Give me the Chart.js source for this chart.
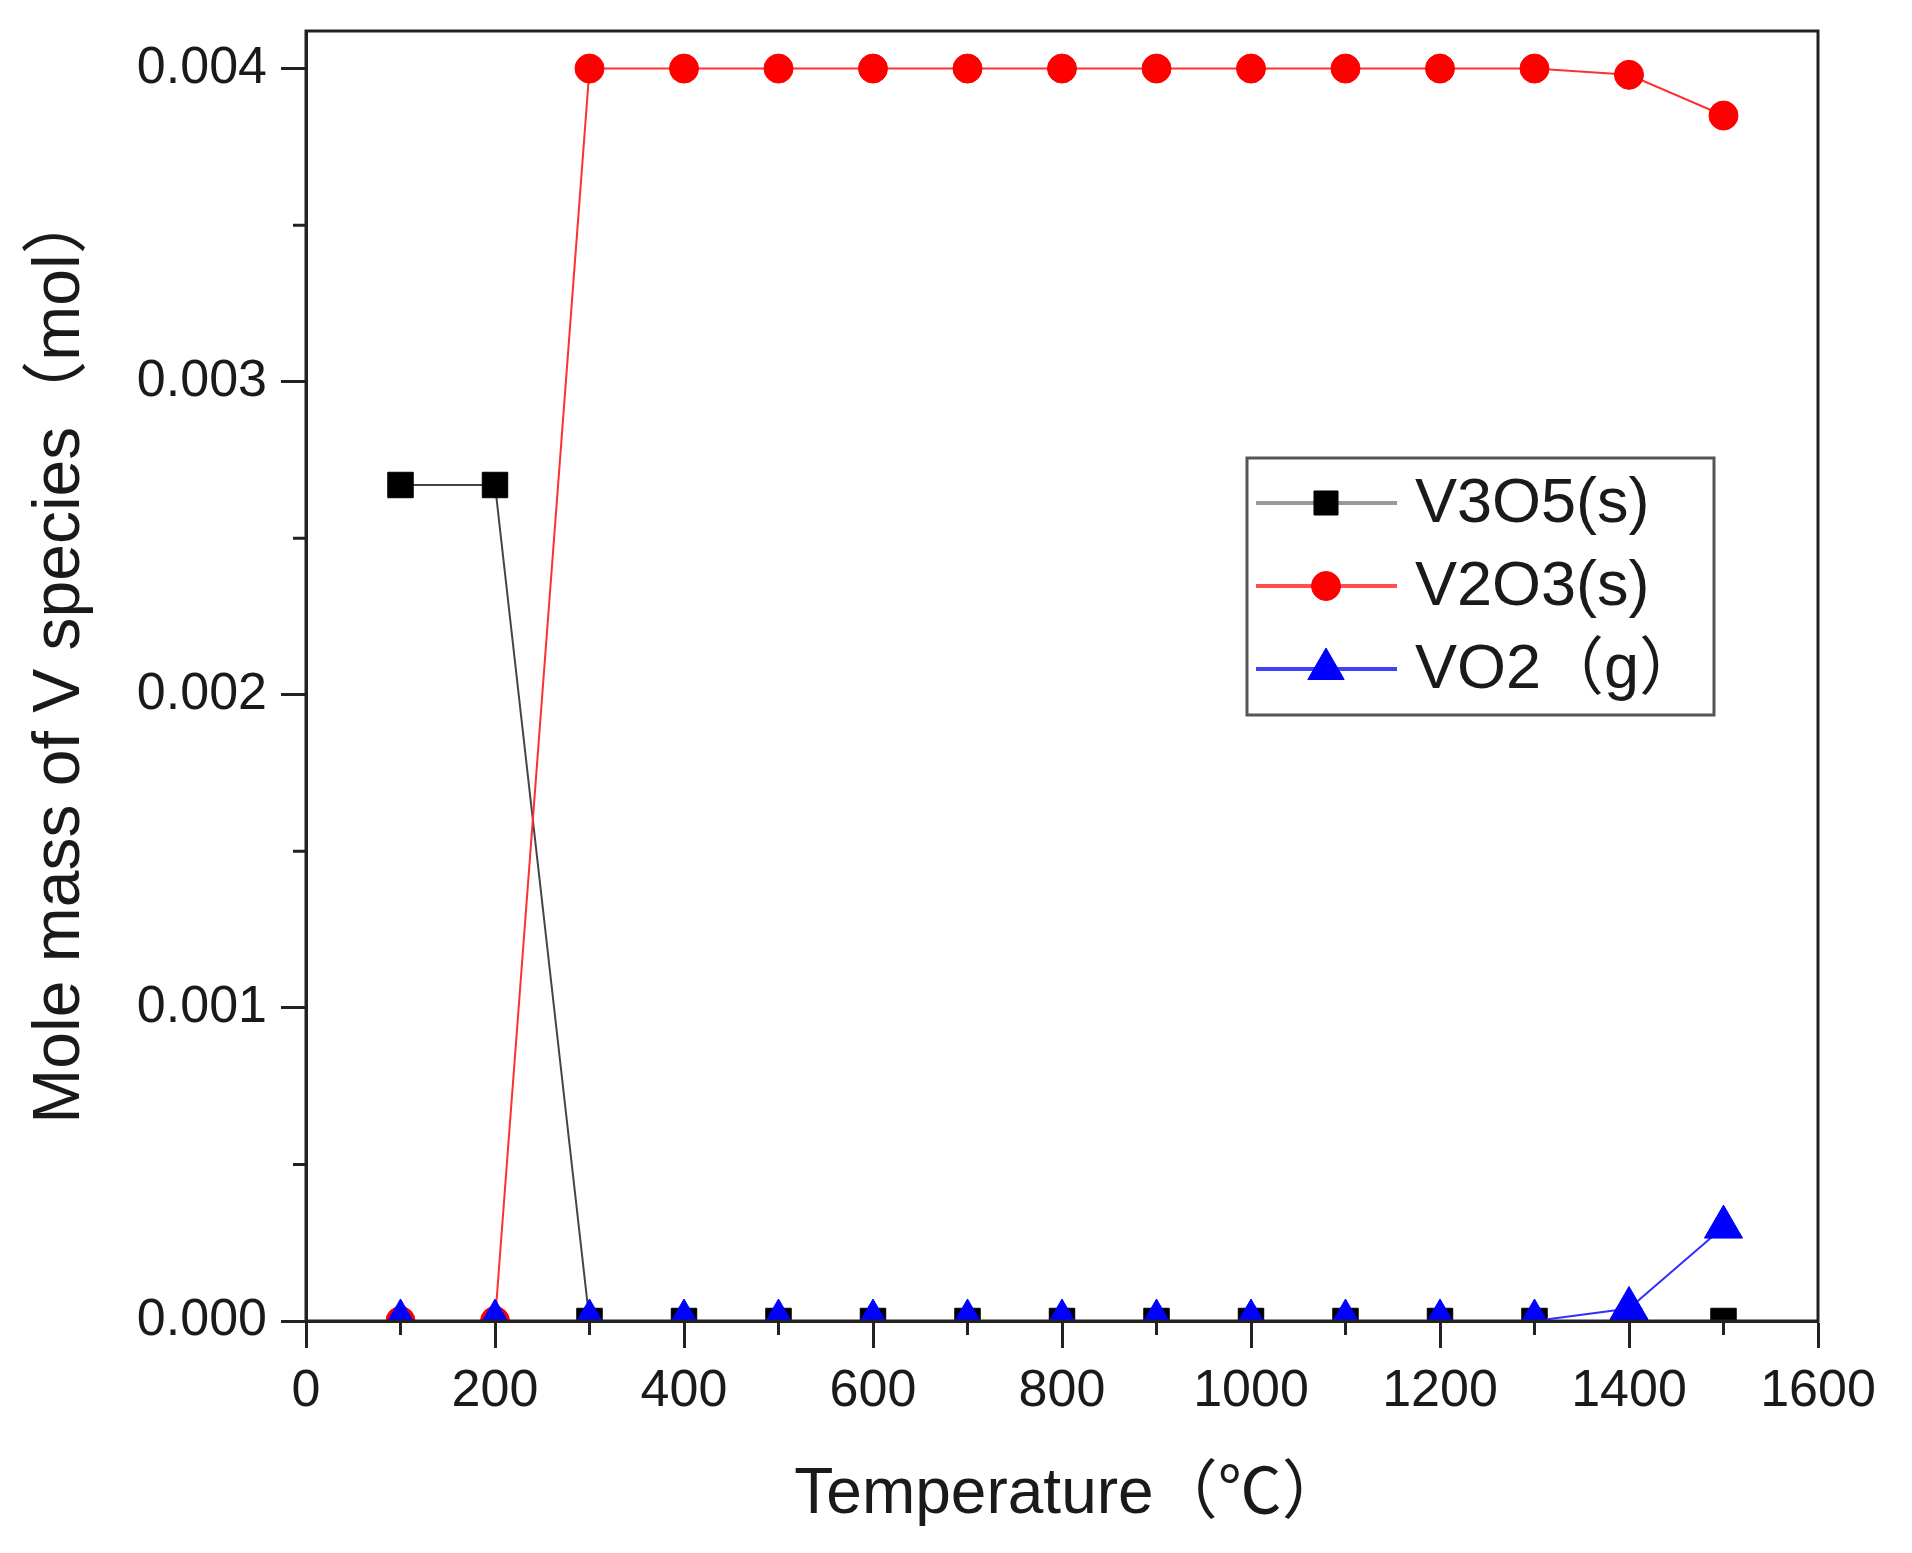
<!DOCTYPE html>
<html>
<head>
<meta charset="utf-8">
<script src="https://cdn.jsdelivr.net/npm/chart.js@4.4.0/dist/chart.umd.min.js"></script>
<style>
    html, body { margin: 0; padding: 0; background: #fff; }
    #wrap { width: 1912px; height: 1553px; }
</style>
</head>
<body>
<div id="wrap"><canvas id="speciesChart" width="1912" height="1553"></canvas></div>
<script>
// temperatures (°C) and mole amounts
const temperatures = [100, 200, 300, 400, 500, 600, 700, 800, 900, 1000, 1100, 1200, 1300, 1400, 1500];
const v3o5 = [0.00267, 0.00267, 0, 0, 0, 0, 0, 0, 0, 0, 0, 0, 0, 0, 0];
const v2o3 = [0, 0, 0.004, 0.004, 0.004, 0.004, 0.004, 0.004, 0.004, 0.004, 0.004, 0.004, 0.004, 0.00398, 0.00385];
const vo2 = [0, 0, 0, 0, 0, 0, 0, 0, 0, 0, 0, 0, 0, 0.00004, 0.0003];

const seriesLabels = ['V3O5(s)', 'V2O3(s)', 'VO2（g）'];
const xTicks = [0, 200, 400, 600, 800, 1000, 1200, 1400, 1600];
const xMinorTicks = [100, 300, 500, 700, 900, 1100, 1300, 1500];
const yTicks = [0, 0.001, 0.002, 0.003, 0.004];
const yMinorTicks = [0.0005, 0.0015, 0.0025, 0.0035];

const xTitle = 'Temperature（℃）';
const yTitle = 'Mole mass of V species（mol）';

const axisColor = '#222';
const textColor = '#1a1a1a';
const fontFamily = '"Liberation Sans", Arial, "Noto Sans CJK SC", sans-serif';

function toPoints(values) {
    return temperatures.map((t, i) => ({x: t, y: values[i]}));
}

function marker(ctx, style, radius, x, y, fill) {
    ctx.save();
    ctx.fillStyle = fill;
    ctx.strokeStyle = fill;
    ctx.lineWidth = 1;
    if (Chart.helpers && Chart.helpers.drawPoint) {
        Chart.helpers.drawPoint(ctx, {pointStyle: style, radius: radius, rotation: 0, borderWidth: 1}, x, y);
    } else {
        ctx.beginPath();
        if (style === 'rect') {
            const s = Math.SQRT1_2 * radius;
            ctx.rect(x - s, y - s, 2 * s, 2 * s);
        } else if (style === 'triangle') {
            for (let k = 0; k < 3; k++) {
                const a = k * 2 * Math.PI / 3;
                ctx.lineTo(x + Math.sin(a) * radius, y - Math.cos(a) * radius);
            }
            ctx.closePath();
        } else {
            ctx.arc(x, y, radius, 0, 2 * Math.PI);
        }
        ctx.fill();
        ctx.stroke();
    }
    ctx.restore();
}

// box frame, minor ticks, axis titles and the legend inside the plot
const decorations = {
    id: 'decorations',
    afterDatasetsDraw(chart) {
        const {ctx, chartArea, scales} = chart;
        ctx.save();
        ctx.strokeStyle = axisColor;
        ctx.lineWidth = 3;
        ctx.strokeRect(chartArea.left, chartArea.top, chartArea.right - chartArea.left, chartArea.bottom - chartArea.top);

        ctx.beginPath();
        xMinorTicks.forEach((v) => {
            const px = scales.x.getPixelForValue(v);
            ctx.moveTo(px, chartArea.bottom);
            ctx.lineTo(px, chartArea.bottom + 14);
        });
        yMinorTicks.forEach((v) => {
            const py = scales.y.getPixelForValue(v);
            ctx.moveTo(chartArea.left, py);
            ctx.lineTo(chartArea.left - 13, py);
        });
        ctx.stroke();
        ctx.restore();
    },
    afterDraw(chart) {
        const ctx = chart.ctx;
        ctx.save();
        ctx.fillStyle = textColor;
        ctx.textAlign = 'center';
        ctx.textBaseline = 'middle';
        ctx.font = '64px ' + fontFamily;
        ctx.fillText(xTitle, 1070, 1495);

        ctx.font = '66px ' + fontFamily;
        ctx.translate(61, 656);
        ctx.rotate(-Math.PI / 2);
        ctx.fillText(yTitle, 0, 0);
        ctx.restore();

        // legend
        const box = {x: 1247, y: 458, w: 467, h: 257};
        ctx.save();
        ctx.fillStyle = '#fff';
        ctx.fillRect(box.x, box.y, box.w, box.h);
        ctx.strokeStyle = '#555';
        ctx.lineWidth = 3;
        ctx.strokeRect(box.x, box.y, box.w, box.h);
        ctx.font = '63px ' + fontFamily;
        ctx.textAlign = 'left';
        ctx.textBaseline = 'middle';
        const rowY = [503, 586, 669];
        const lineColors = ['#999', '#ff5050', '#4040ff'];
        chart.data.datasets.forEach((ds, i) => {
            const y = rowY[i];
            ctx.strokeStyle = lineColors[i];
            ctx.lineWidth = 4;
            ctx.beginPath();
            ctx.moveTo(1256, y);
            ctx.lineTo(1397, y);
            ctx.stroke();
            const r = ds.pointStyle === 'triangle' ? 21 : ds.pointStyle === 'rect' ? 17 : 14.5;
            marker(ctx, ds.pointStyle, r, 1326, y, ds.pointBackgroundColor);
            ctx.fillStyle = textColor;
            ctx.fillText(ds.label, 1415, y + 2);
        });
        ctx.restore();
    }
};

const tickFont = {family: fontFamily, size: 52};

new Chart(document.getElementById('speciesChart'), {
    type: 'line',
    data: {
        datasets: [
            {
                label: seriesLabels[0],
                data: toPoints(v3o5),
                borderColor: '#444',
                borderWidth: 2,
                pointStyle: 'rect',
                pointRadius: 18,
                pointBackgroundColor: '#000',
                pointBorderColor: '#000',
                pointBorderWidth: 1,
                tension: 0,
                clip: 0,
                order: 3
            },
            {
                label: seriesLabels[1],
                data: toPoints(v2o3),
                borderColor: '#ff3030',
                borderWidth: 2,
                pointStyle: 'circle',
                pointRadius: 14.5,
                pointBackgroundColor: '#ff0000',
                pointBorderColor: '#ff0000',
                pointBorderWidth: 1,
                tension: 0,
                clip: 0,
                order: 2
            },
            {
                label: seriesLabels[2],
                data: toPoints(vo2),
                borderColor: '#3030ff',
                borderWidth: 2,
                pointStyle: 'triangle',
                pointRadius: 22,
                pointBackgroundColor: '#0000ff',
                pointBorderColor: '#0000ff',
                pointBorderWidth: 1,
                tension: 0,
                clip: 0,
                order: 1
            }
        ]
    },
    options: {
        responsive: false,
        animation: false,
        events: [],
        layout: {padding: {left: 0, top: 31, right: 94, bottom: 0}},
        plugins: {
            legend: {display: false},
            tooltip: {enabled: false}
        },
        scales: {
            x: {
                type: 'linear',
                min: 0,
                max: 1600,
                afterBuildTicks: (axis) => { axis.ticks = xTicks.map((v) => ({value: v})); },
                afterFit: (axis) => { axis.height = 232; },
                grid: {drawOnChartArea: false, drawTicks: true, tickLength: 27, tickWidth: 3, tickColor: axisColor},
                border: {display: true, color: axisColor, width: 3},
                ticks: {
                    font: tickFont,
                    color: textColor,
                    padding: 12,
                    maxRotation: 0,
                    autoSkip: false,
                    callback: (value) => String(value)
                }
            },
            y: {
                type: 'linear',
                min: 0,
                max: 0.00412,
                afterBuildTicks: (axis) => { axis.ticks = yTicks.map((v) => ({value: v})); },
                afterFit: (axis) => {
                    axis.width = 306;
                    axis.paddingTop = 0;
                    axis.paddingBottom = 0;
                },
                grid: {drawOnChartArea: false, drawTicks: true, tickLength: 25, tickWidth: 3, tickColor: axisColor},
                border: {display: true, color: axisColor, width: 3},
                ticks: {
                    font: tickFont,
                    color: textColor,
                    padding: 14,
                    callback: (value) => value.toFixed(3)
                }
            }
        }
    },
    plugins: [decorations]
});
</script>
</body>
</html>
